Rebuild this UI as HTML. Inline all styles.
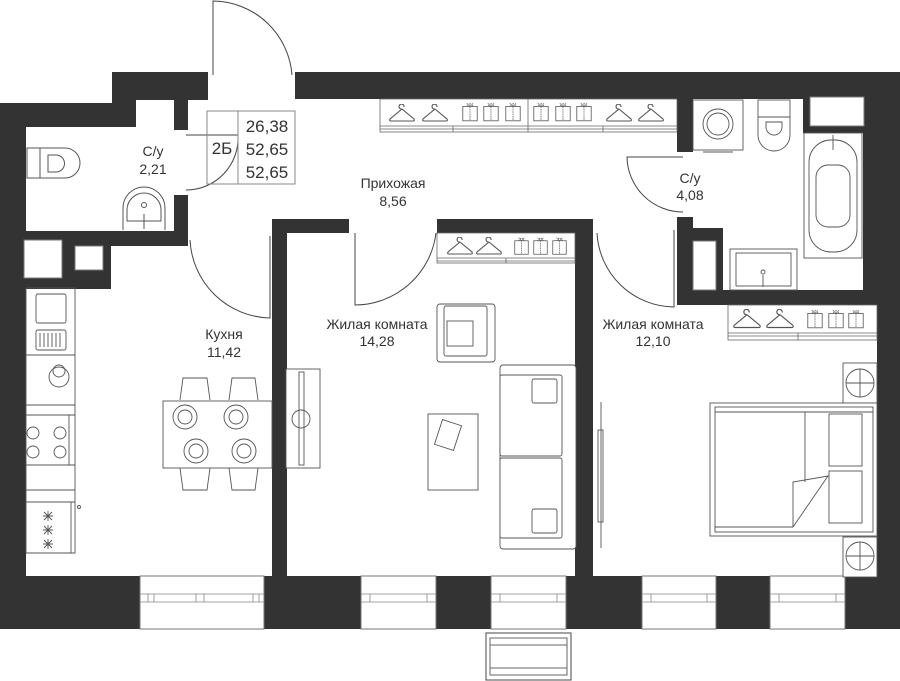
<!DOCTYPE html>
<html><head><meta charset="utf-8"><style>
html,body{margin:0;padding:0;background:#fff;}
svg{display:block;}
text{font-family:"Liberation Sans",sans-serif;font-size:14px;fill:#333;text-anchor:middle;}
</style></head><body>
<svg width="900" height="681" viewBox="0 0 900 681" xmlns="http://www.w3.org/2000/svg">
<defs>
<symbol id="hg" viewBox="0 0 28 18"><path d="M14 4 a2.5 2.5 0 1 1 2 -2 M14 4 L2 14 Q1 16 3 16 L25 16 Q27 16 26 14 L14 4" fill="none" stroke="#555" stroke-width="1.1"/></symbol>
<symbol id="sh" viewBox="0 0 20 24"><rect x="1" y="5" width="18" height="18" fill="#fff" stroke="#555"/><path d="M6 5 L10 1 L14 5 M6 1 L10 5 L14 1 M10 5 V23" fill="none" stroke="#555" stroke-width="0.9" stroke-dasharray="2 1"/></symbol>
</defs>
<g fill="#333">
<rect x="0" y="103" width="26" height="526"/>
<polygon points="0,103 112,103 112,72 208,72 208,100 136,100 136,127 0,127"/>
<rect x="174" y="100" width="14" height="30"/>
<rect x="295" y="72" width="605" height="27"/>
<rect x="863" y="72" width="37" height="233"/>
<rect x="877" y="290" width="23" height="339"/>
<rect x="174" y="195" width="14" height="51"/>
<rect x="0" y="231" width="188" height="15"/>
<rect x="0" y="240" width="111" height="49"/>
<rect x="272" y="219" width="77" height="14"/>
<rect x="272" y="219" width="15" height="410"/>
<rect x="437" y="219" width="156" height="14"/>
<rect x="575" y="219" width="18" height="410"/>
<rect x="677" y="99" width="16" height="53"/>
<rect x="677" y="217" width="16" height="88"/>
<rect x="677" y="228" width="46" height="77"/>
<rect x="677" y="290" width="200" height="15"/>
<rect x="803" y="99" width="60" height="34"/>
<rect x="0" y="576" width="900" height="53"/>
</g>
<g fill="#fff" stroke="#777" stroke-width="1">
<rect x="24" y="240" width="38" height="38"/>
<rect x="75" y="246" width="28" height="24"/>
<rect x="693" y="241" width="23" height="49"/>
<rect x="810" y="97" width="54" height="29"/>
<rect x="140" y="576" width="124" height="53"/>
<rect x="361" y="576" width="75" height="53"/>
<rect x="491" y="576" width="75" height="53"/>
<rect x="642" y="576" width="74" height="53"/>
<rect x="770" y="576" width="75" height="53"/>
</g>
<g fill="none" stroke="#888" stroke-width="0.8">
<path d="M140 594 H264 M140 602 H264 M361 594 H436 M361 602 H436 M491 594 H566 M491 602 H566 M642 594 H716 M642 602 H716 M770 594 H845 M770 602 H845"/>
<path d="M148 594 V602 M154 594 V602 M253 594 V602 M259 594 V602 M196 594 V602 M204 594 V602 M370 594 V602 M427 594 V602 M500 594 V602 M557 594 V602 M651 594 V602 M707 594 V602 M779 594 V602 M836 594 V602"/>
</g>
<rect x="486" y="633" width="85" height="47" fill="#fff" stroke="#666" stroke-width="1.2"/>
<rect x="490" y="638" width="77" height="37" fill="none" stroke="#666"/>
<path d="M490 645 H567 M490 668 H567" stroke="#666"/>
<g fill="none" stroke="#444" stroke-width="1">
<path d="M213 75 V1 A80 80 0 0 1 292 75"/>
<path d="M186 135 H238 A52 52 0 0 1 186 190"/>
<path d="M190 240 A82 82 0 0 0 270 318 V236"/>
<path d="M355 233 V305 A82 82 0 0 0 436 233"/>
<path d="M683 157 H627 A56 56 0 0 0 683 212"/>
<path d="M597 233 A78 78 0 0 0 674 307 V230"/>
</g>
<g fill="none" stroke="#888">
<rect x="207" y="111" width="88" height="73"/>
<path d="M238 111 V184"/>
</g>
<text x="222" y="154" style="font-size:17px">2Б</text>
<text x="267" y="132" style="font-size:17px">26,38</text>
<text x="267" y="155" style="font-size:17px">52,65</text>
<text x="267" y="178" style="font-size:17px">52,65</text>
<text x="153" y="156">С/у</text><text x="153" y="174">2,21</text>
<text x="393" y="188">Прихожая</text><text x="393" y="206">8,56</text>
<text x="690" y="183">С/у</text><text x="690" y="200">4,08</text>
<text x="224" y="339">Кухня</text><text x="224" y="357">11,42</text>
<text x="377" y="329">Жилая комната</text><text x="377" y="346">14,28</text>
<text x="653" y="329">Жилая комната</text><text x="653" y="346">12,10</text>
<g fill="none" stroke="#666" stroke-width="0.8">
<rect x="380" y="99" width="297" height="33" fill="#fff"/>
<path d="M380 126 H677 M380 129 H677 M453 126 V132 M528 99 V132 M603 126 V132"/>
<rect x="437" y="233" width="138" height="30" fill="#fff"/>
<path d="M437 258 H575 M437 261 H575 M506 258 V263"/>
<rect x="728" y="305" width="149" height="35" fill="#fff"/>
<path d="M728 333 H877 M728 336 H877 M798 333 V340"/>
</g>
<use href="#hg" x="388" y="104" width="28" height="20"/><use href="#hg" x="421" y="104" width="28" height="20"/>
<use href="#sh" x="462" y="101" width="16" height="22"/><use href="#sh" x="483" y="101" width="16" height="22"/><use href="#sh" x="505" y="101" width="16" height="22"/>
<use href="#sh" x="533" y="101" width="16" height="22"/><use href="#sh" x="555" y="101" width="16" height="22"/><use href="#sh" x="576" y="101" width="16" height="22"/>
<use href="#hg" x="605" y="104" width="28" height="20"/><use href="#hg" x="637" y="104" width="28" height="20"/>
<use href="#hg" x="446" y="237" width="28" height="20"/><use href="#hg" x="475" y="237" width="28" height="20"/>
<use href="#sh" x="514" y="235" width="15" height="22"/><use href="#sh" x="533" y="235" width="15" height="22"/><use href="#sh" x="552" y="235" width="15" height="22"/>
<use href="#hg" x="732" y="309" width="30" height="22"/><use href="#hg" x="765" y="309" width="30" height="22"/>
<use href="#sh" x="807" y="307" width="16" height="24"/><use href="#sh" x="828" y="307" width="16" height="24"/><use href="#sh" x="848" y="307" width="16" height="24"/>
<g fill="none" stroke="#555" stroke-width="1">
<rect x="27" y="148" width="13" height="30"/>
<path d="M40 148 H65 A15 15 0 0 1 65 178 H40"/>
<path d="M48 155 H56 A8 8 0 0 1 56 172 H48 Z"/>
<path d="M123 230 V208 A21 21 0 0 1 165 208 V230 M127 221 V210 A17 17 0 0 1 161 210 V221 Z"/>
<circle cx="144" cy="205" r="2.5"/><path d="M144 214 V229"/>
</g>
<g fill="none" stroke="#555" stroke-width="0.9">
<rect x="26" y="288" width="49" height="265"/>
<path d="M26 355 H75 M26 405 H75 M26 415 H75 M26 465 H75 M26 490 H75 M26 502 H75 M26 553 H75 M69 415 V465 M71 502 V553"/>
<rect x="36" y="294" width="30" height="29" rx="2"/>
<rect x="36" y="330" width="30" height="20" rx="2"/>
<path d="M40 333 V347 M44 333 V347 M48 333 V347 M52 333 V347 M56 333 V347 M60 333 V347"/>
<circle cx="59" cy="377" r="10"/><circle cx="59" cy="371" r="6"/>
<circle cx="33" cy="433" r="6"/><circle cx="60" cy="433" r="6"/><circle cx="33" cy="452" r="6"/><circle cx="60" cy="452" r="6"/>
<circle cx="79" cy="507" r="1.5"/>
<path d="M48 511 V521 M43 516 H53 M44 512 L52 520 M52 512 L44 520 M48 525 V535 M43 530 H53 M44 526 L52 534 M52 526 L44 534 M48 539 V549 M43 544 H53 M44 540 L52 548 M52 540 L44 548"/>
</g>
<g fill="#fff" stroke="#555" stroke-width="0.9">
<path d="M180 400 L183 378 H207 L210 400 M229 400 L232 378 H255 L258 400 M180 468 L183 490 H207 L210 468 M229 468 L232 490 H255 L258 468" fill="none"/>
<rect x="163" y="401" width="109" height="67"/>
<circle cx="185" cy="417" r="12"/><circle cx="185" cy="417" r="7"/>
<circle cx="236" cy="417" r="12"/><circle cx="236" cy="417" r="7"/>
<circle cx="196" cy="451" r="12"/><circle cx="196" cy="451" r="7"/>
<circle cx="244" cy="451" r="12"/><circle cx="244" cy="451" r="7"/>
</g>
<g fill="#fff" stroke="#555" stroke-width="0.9">
<rect x="286" y="369" width="34" height="99"/>
<rect x="299" y="372" width="5" height="93"/>
<circle cx="301" cy="419" r="9" fill="none"/>
<rect x="437" y="304" width="58" height="58" rx="3"/>
<rect x="444" y="306" width="43" height="50" rx="2"/>
<rect x="447" y="321" width="26" height="25"/>
<rect x="500" y="365" width="76" height="184" rx="3"/>
<rect x="500" y="375" width="62" height="81" rx="2"/>
<rect x="500" y="458" width="62" height="80" rx="2"/>
<rect x="532" y="379" width="25" height="24" rx="2"/>
<rect x="532" y="509" width="25" height="24" rx="2"/>
<rect x="428" y="414" width="50" height="76"/>
<rect x="438" y="422" width="20" height="26" transform="rotate(18 448 435)"/>
</g>
<g fill="#fff" stroke="#555" stroke-width="0.9">
<rect x="598" y="430" width="5" height="92"/>
<path d="M601 402 V548" fill="none"/>
<rect x="843" y="363" width="34" height="40"/>
<circle cx="860" cy="383" r="14"/><path d="M846 383 H874 M860 369 V397" fill="none"/>
<rect x="843" y="537" width="34" height="40"/>
<circle cx="860" cy="556" r="14"/><path d="M846 556 H874 M860 542 V570" fill="none"/>
<rect x="710" y="403" width="167" height="133"/>
<rect x="715" y="407" width="158" height="125"/>
<path d="M715 412 H873 M805 412 V482 M715 527 H793 L793 482 L828 476 L793 527" fill="none"/>
<rect x="829" y="414" width="33" height="52"/><rect x="829" y="471" width="33" height="52"/>
</g>
<g fill="#fff" stroke="#555" stroke-width="0.9">
<rect x="693" y="100" width="50" height="50"/>
<circle cx="718" cy="124" r="15"/><circle cx="718" cy="124" r="11"/>
<path d="M703 152 H733"/>
<rect x="758" y="100" width="32" height="17"/>
<path d="M758 117 V135 A16 16 0 0 0 790 135 V117 Z"/>
<path d="M766 122 H782 V127 A8 8 0 0 1 766 127 Z"/>
<rect x="804" y="133" width="58" height="125"/>
<rect x="809" y="140" width="48" height="112" rx="22"/>
<rect x="816" y="165" width="34" height="62" rx="12"/>
<path d="M833 135 V150"/>
<rect x="730" y="249" width="67" height="41"/>
<rect x="736" y="253" width="55" height="33"/>
<circle cx="763" cy="272" r="2"/><path d="M763 275 V287"/>
</g>
</svg>
</body></html>
